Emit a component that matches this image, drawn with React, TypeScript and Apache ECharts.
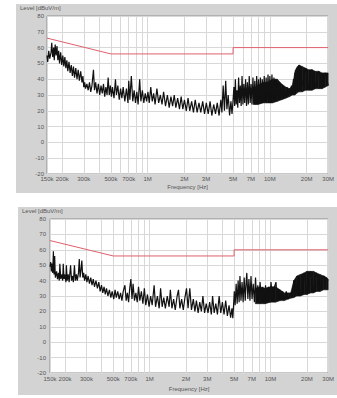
import React, { useEffect, useRef } from "react";
import * as echarts from "echarts";

// ---- axes ----
const TICK_MHZ = [0.15, 0.2, 0.3, 0.5, 0.7, 1, 2, 3, 5, 7, 10, 20, 30];
const TICK_LABELS = ["150k", "200k", "300k", "500k", "700k", "1M", "2M", "3M", "5M", "7M", "10M", "20M", "30M"];
const GRID_MHZ = [0.15, 0.2, 0.3, 0.4, 0.5, 0.6, 0.7, 0.8, 0.9, 1, 2, 3, 4, 5, 6, 7, 8, 9, 10, 20, 30];
const LEVEL_MIN = -20;
const LEVEL_MAX = 80;
const LEVEL_STEP = 10;
const Y_TITLE = "Level [dBuV/m]";
const X_TITLE = "Frequency [Hz]";

// ---- limit line ----
const LIMIT_MHZ = [0.15, 0.5, 5, 5, 30];
const LIMIT_DB = [66, 56, 56, 60, 60];

// ---- top measurement trace [MHz, dBuV/m] ----
const TOP_TRACE: [number, number][] = [
  [0.150, 55], [0.152, 51], [0.155, 58], [0.158, 53], [0.162, 57], [0.164, 63], [0.167, 54], [0.170, 60],
  [0.172, 52], [0.175, 62], [0.178, 55], [0.181, 61], [0.184, 52], [0.187, 58], [0.190, 50], [0.194, 57],
  [0.198, 49], [0.202, 55], [0.206, 48], [0.210, 54], [0.214, 47], [0.218, 52], [0.222, 45], [0.227, 51],
  [0.232, 44], [0.237, 49], [0.242, 42], [0.247, 48], [0.252, 41], [0.258, 47], [0.264, 40], [0.270, 46],
  [0.276, 39], [0.283, 45], [0.290, 38], [0.295, 42], [0.300, 35], [0.305, 38], [0.310, 34], [0.318, 37],
  [0.326, 33], [0.334, 38], [0.342, 32], [0.350, 36], [0.360, 46], [0.367, 33], [0.375, 38], [0.385, 31],
  [0.395, 37], [0.405, 30], [0.415, 36], [0.425, 31], [0.435, 37], [0.445, 29], [0.455, 35], [0.465, 30],
  [0.475, 41], [0.485, 30], [0.495, 36], [0.505, 29], [0.515, 35], [0.530, 28], [0.545, 40], [0.555, 30],
  [0.570, 36], [0.585, 27], [0.600, 34], [0.615, 28], [0.630, 35], [0.650, 26], [0.670, 34], [0.690, 25],
  [0.700, 39], [0.715, 27], [0.735, 42], [0.755, 26], [0.775, 33], [0.795, 25], [0.815, 32], [0.835, 24],
  [0.860, 40], [0.880, 26], [0.905, 33], [0.930, 25], [0.955, 31], [0.980, 26], [1.005, 32], [1.030, 25],
  [1.060, 35], [1.090, 26], [1.120, 31], [1.150, 24], [1.190, 34], [1.230, 25], [1.270, 30], [1.310, 24],
  [1.350, 32], [1.400, 23], [1.450, 30], [1.500, 22], [1.550, 29], [1.600, 23], [1.650, 30], [1.700, 22],
  [1.760, 28], [1.820, 21], [1.880, 29], [1.940, 21], [2.000, 27], [2.070, 20], [2.140, 28], [2.210, 20],
  [2.290, 26], [2.370, 19], [2.450, 27], [2.540, 19], [2.630, 25], [2.720, 19], [2.820, 26], [2.920, 18],
  [3.020, 25], [3.130, 18], [3.240, 26], [3.350, 17], [3.470, 24], [3.590, 18], [3.710, 25], [3.840, 17],
  [3.970, 27], [4.050, 19], [4.150, 36], [4.250, 20], [4.350, 39], [4.450, 21], [4.560, 30], [4.680, 17],
  [4.800, 26], [4.900, 18], [5.000, 27], [5.08, 35], [5.15, 23], [5.22, 40], [5.30, 24], [5.38, 33],
  [5.46, 22], [5.55, 41], [5.64, 25], [5.73, 36], [5.82, 23], [5.92, 42], [6.02, 24], [6.12, 37],
  [6.22, 25], [6.33, 40], [6.44, 23], [6.55, 38], [6.66, 24], [6.78, 42], [6.90, 25], [7.02, 37],
  [7.14, 24], [7.27, 41], [7.40, 25], [7.53, 39], [7.66, 24], [7.80, 42], [7.94, 26], [8.08, 40],
  [8.22, 25], [8.37, 41], [8.52, 26], [8.67, 40], [8.83, 25], [8.99, 42], [9.15, 26], [9.32, 41],
  [9.49, 27], [9.66, 43], [9.84, 26], [10.0, 42], [10.2, 27], [10.4, 43], [10.6, 26], [10.8, 41],
  [11.0, 27], [11.2, 40], [11.4, 26], [11.6, 38], [11.8, 27], [12.0, 36], [12.3, 28], [12.6, 35],
  [12.9, 29], [13.2, 34], [13.5, 29], [13.8, 35], [14.1, 30], [14.4, 34], [14.7, 30], [15.0, 36],
  [15.3, 30], [15.6, 40], [15.9, 31], [16.2, 46], [16.5, 33], [16.8, 48], [17.1, 34], [17.4, 49],
  [18.4, 36], [19.6, 47], [20.8, 34], [22.1, 46], [23.6, 35], [25.1, 45], [26.7, 35], [28.4, 44], [30, 36],
];
// dense (solid) part of top trace
const TOP_BAND_MHZ = [7.3, 8.0, 8.8, 9.5, 10.5, 11.5, 12.5, 13.5, 14.5, 15.3, 16.0, 16.5, 17.3, 18.4, 19.6, 20.8, 22.1, 23.6, 25.1, 26.7, 28.4, 30];
const TOP_BAND_HI = [33, 36, 38, 38, 40, 40, 37, 35, 34, 36, 44, 47, 49, 48, 47, 46, 46, 45, 45, 44, 44, 44];
const TOP_BAND_LO = [24, 24, 25, 25, 25, 26, 27, 28, 29, 30, 30, 31, 32, 32, 33, 33, 33, 34, 34, 34, 35, 36];

// ---- bottom measurement trace [MHz, dBuV/m] ----
const BOTTOM_TRACE: [number, number][] = [
  [0.150, 49], [0.152, 52], [0.154, 46], [0.156, 51], [0.158, 45], [0.160, 59], [0.162, 44], [0.164, 56],
  [0.166, 42], [0.170, 46], [0.173, 41], [0.176, 45], [0.179, 40], [0.181, 51], [0.184, 41], [0.188, 44],
  [0.191, 40], [0.193, 51], [0.196, 41], [0.200, 44], [0.203, 39], [0.205, 50], [0.208, 40], [0.212, 44],
  [0.216, 39], [0.222, 50], [0.226, 40], [0.230, 43], [0.234, 39], [0.239, 50], [0.243, 40], [0.248, 44],
  [0.252, 40], [0.258, 45], [0.262, 54], [0.266, 42], [0.270, 46], [0.275, 53], [0.280, 42], [0.285, 45],
  [0.290, 40], [0.297, 44], [0.303, 39], [0.310, 43], [0.318, 38], [0.326, 42], [0.334, 37], [0.342, 41],
  [0.350, 36], [0.360, 40], [0.370, 35], [0.380, 39], [0.390, 33], [0.400, 37], [0.410, 32], [0.420, 36],
  [0.430, 31], [0.440, 35], [0.452, 30], [0.465, 34], [0.478, 29], [0.490, 33], [0.505, 28], [0.518, 34],
  [0.530, 29], [0.545, 33], [0.560, 28], [0.575, 32], [0.590, 27], [0.605, 33], [0.625, 37], [0.640, 27],
  [0.655, 32], [0.670, 26], [0.685, 35], [0.700, 41], [0.715, 28], [0.730, 38], [0.750, 27], [0.770, 32],
  [0.790, 26], [0.810, 36], [0.830, 27], [0.855, 33], [0.880, 25], [0.905, 35], [0.930, 24], [0.960, 31],
  [0.990, 23], [1.020, 30], [1.050, 24], [1.090, 37], [1.120, 23], [1.160, 30], [1.200, 22], [1.233, 35],
  [1.270, 23], [1.310, 29], [1.350, 22], [1.400, 30], [1.450, 23], [1.485, 34], [1.530, 22], [1.580, 28],
  [1.630, 21], [1.690, 30], [1.734, 34], [1.780, 22], [1.840, 28], [1.900, 21], [1.960, 29], [2.020, 35],
  [2.080, 22], [2.150, 35], [2.220, 21], [2.300, 28], [2.370, 20], [2.440, 27], [2.520, 19], [2.600, 26],
  [2.680, 20], [2.760, 30], [2.850, 19], [2.940, 25], [3.040, 19], [3.140, 26], [3.240, 18], [3.320, 30],
  [3.420, 19], [3.530, 25], [3.640, 18], [3.760, 30], [3.880, 19], [4.000, 26], [4.130, 18], [4.260, 27],
  [4.400, 17], [4.540, 24], [4.680, 16], [4.800, 22], [4.880, 15.6], [4.950, 24], [5.02, 33], [5.10, 24],
  [5.20, 38], [5.30, 25], [5.40, 40], [5.50, 26], [5.59, 43], [5.70, 27], [5.82, 39], [5.94, 26],
  [6.06, 42], [6.18, 27], [6.30, 40], [6.37, 45], [6.50, 28], [6.63, 41], [6.76, 27], [6.90, 43],
  [7.04, 28], [7.20, 38], [7.36, 26], [7.52, 42], [7.68, 27], [7.85, 37], [8.02, 26], [8.20, 39],
  [8.42, 27], [8.64, 36], [8.86, 26], [9.10, 37], [9.35, 27], [9.60, 36], [9.85, 26], [10.1, 39],
  [10.4, 27], [10.7, 35], [11.1, 39], [11.4, 27], [11.8, 34], [12.2, 28], [12.6, 33], [13.0, 28],
  [13.5, 33], [14.0, 28], [14.7, 32], [15.2, 29], [15.6, 40], [16.2, 30], [16.8, 43], [17.4, 31],
  [17.7, 31], [19.0, 45], [20.0, 32], [21.5, 46], [22.7, 33], [24.0, 45], [25.7, 34], [27.5, 43], [30, 40],
];
const BOTTOM_BAND_MHZ = [7.5, 8.2, 9.0, 10.0, 11.0, 12.0, 13.0, 14.0, 14.7, 15.6, 16.5, 17.7, 19.0, 20.0, 21.5, 22.7, 24.0, 25.7, 27.5, 29.1, 30];
const BOTTOM_BAND_HI = [35, 36, 35, 36, 36, 34, 32, 32, 32, 40, 43, 44, 45, 46, 46, 46, 45, 44, 43, 42, 41];
const BOTTOM_BAND_LO = [25, 25, 25, 26, 26, 27, 27, 28, 28.6, 29, 30, 30, 31, 31, 32, 32, 33, 33, 34, 34, 34];

const W = 337;
const H = 398;
const FONT = "Liberation Sans, Arial, sans-serif";
const TEXT_COLOR = "#555";
const PANEL = "#d3d3d3";

const lg = (v: number) => Math.log10(v);

function labelFor(v: number): string {
  let best = 0;
  let bd = Infinity;
  TICK_MHZ.forEach((t, i) => {
    const d = Math.abs(lg(t) - v);
    if (d < bd) { bd = d; best = i; }
  });
  return bd < 1e-6 ? TICK_LABELS[best] : "";
}

function bandSeries(idx: number, mhz: number[], hi: number[], lo: number[]) {
  return {
    type: "custom",
    xAxisIndex: idx,
    yAxisIndex: idx,
    silent: true,
    z: 3,
    data: mhz.map((f, i) => [lg(f), hi[i], lo[i]]),
    renderItem: (params: any, api: any) => {
      const i = params.dataIndex;
      if (i >= mhz.length - 1) return { type: "group", children: [] };
      const a = api.coord([lg(mhz[i]), hi[i]]);
      const b = api.coord([lg(mhz[i + 1]), hi[i + 1]]);
      const c = api.coord([lg(mhz[i + 1]), lo[i + 1]]);
      const d = api.coord([lg(mhz[i]), lo[i]]);
      return {
        type: "polygon",
        shape: { points: [a, b, c, d] },
        style: { fill: "#111", stroke: "#111", lineWidth: 0.6 },
      };
    },
  };
}

export default function App() {
  const ref = useRef<HTMLDivElement>(null);
  useEffect(() => {
    if (!ref.current) return;
    const chart = echarts.init(ref.current, undefined, { renderer: "svg" });

    const grids = [
      { left: 47, top: 16, width: 286, height: 158 },
      { left: 50, top: 219, width: 285, height: 154 },
    ];
    const nameGaps = [10, 13];
    const labelMarginsX = [2, 3];
    const labelMarginsY = [3, 4];

    const xAxes = grids.map((_, k) => ({
      type: "value",
      gridIndex: k,
      min: lg(0.15),
      max: lg(30),
      axisLine: { show: false },
      axisTick: { show: false, customValues: GRID_MHZ.map(lg) },
      axisLabel: {
        customValues: TICK_MHZ.map(lg),
        formatter: (v: number) => labelFor(v),
        fontSize: 6,
        color: TEXT_COLOR,
        fontFamily: FONT,
        margin: labelMarginsX[k],
      },
      splitLine: { show: true, lineStyle: { color: "#d8d8d8", width: 1 } },
      name: X_TITLE,
      nameLocation: "middle",
      nameGap: nameGaps[k],
      nameTextStyle: { fontSize: 6, color: TEXT_COLOR, fontFamily: FONT },
    }));

    const yAxes = grids.map((_, k) => ({
      type: "value",
      gridIndex: k,
      min: LEVEL_MIN,
      max: LEVEL_MAX,
      interval: LEVEL_STEP,
      axisLine: { show: false },
      axisTick: { show: false },
      axisLabel: { fontSize: 6, color: TEXT_COLOR, fontFamily: FONT, margin: labelMarginsY[k] },
      splitLine: { show: true, lineStyle: { color: "#d8d8d8", width: 1 } },
    }));

    const traces = [TOP_TRACE, BOTTOM_TRACE];
    const bands = [
      [TOP_BAND_MHZ, TOP_BAND_HI, TOP_BAND_LO],
      [BOTTOM_BAND_MHZ, BOTTOM_BAND_HI, BOTTOM_BAND_LO],
    ];

    const series: any[] = [];
    grids.forEach((_, k) => {
      series.push({
        type: "line",
        xAxisIndex: k,
        yAxisIndex: k,
        data: traces[k].map(([f, v]) => [lg(f), v]),
        showSymbol: false,
        symbol: "none",
        lineStyle: { color: "#111", width: 1.2 },
        z: 3,
        silent: true,
      });
      series.push(bandSeries(k, bands[k][0], bands[k][1], bands[k][2]));
      series.push({
        type: "line",
        xAxisIndex: k,
        yAxisIndex: k,
        data: LIMIT_MHZ.map((f, i) => [lg(f), LIMIT_DB[i]]),
        showSymbol: false,
        symbol: "none",
        lineStyle: { color: "#e0606c", width: 1 },
        z: 4,
        silent: true,
      });
    });

    chart.setOption({
      animation: false,
      backgroundColor: "#ffffff",
      grid: grids.map((g) => ({
        ...g,
        show: true,
        backgroundColor: "#ffffff",
        borderColor: "#8f8f8f",
        borderWidth: 1,
      })),
      xAxis: xAxes,
      yAxis: yAxes,
      series,
      graphic: [
        { type: "rect", z: -10, shape: { x: 16, y: 4, width: 321, height: 189 }, style: { fill: PANEL } },
        { type: "rect", z: -10, shape: { x: 18, y: 207, width: 319, height: 188 }, style: { fill: PANEL } },
        {
          type: "text", z: 10, x: 20, y: 8,
          style: { text: Y_TITLE, fontSize: 6, fill: TEXT_COLOR, fontFamily: FONT, verticalAlign: "middle" },
        },
        {
          type: "text", z: 10, x: 22, y: 211,
          style: { text: Y_TITLE, fontSize: 6, fill: TEXT_COLOR, fontFamily: FONT, verticalAlign: "middle" },
        },
      ],
    });
    return () => chart.dispose();
  }, []);
  return (
    <div
      ref={ref}
      style={{ position: "fixed", left: 0, top: 0, width: W, height: H }}
    />
  );
}
